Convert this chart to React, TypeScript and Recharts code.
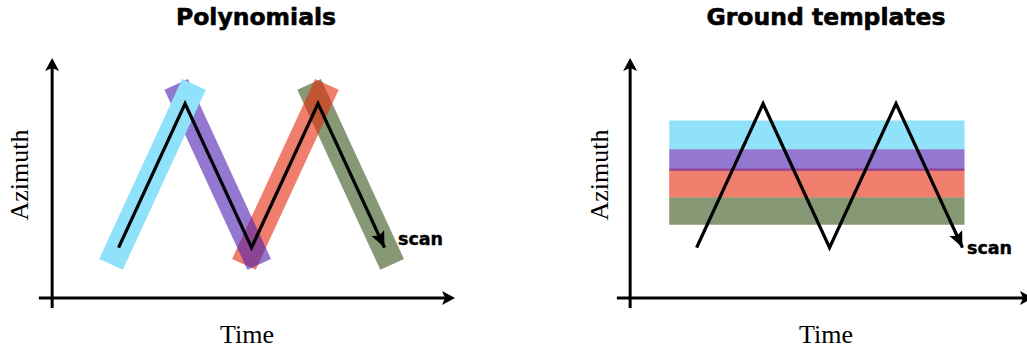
import React from 'react';
import { ComposedChart, Line, XAxis, YAxis, ReferenceLine, ReferenceArea } from 'recharts';

// scan path (time, azimuth) shared by both panels
const scanPath = [
  { t: 1.65, a: 2.1 },
  { t: 3.3, a: 8.1 },
  { t: 4.95, a: 2.1 },
  { t: 6.6, a: 8.1 },
  { t: 8.25, a: 2.1 },
];

// polynomial pieces, one per scan leg
const cyanPiece = [{ t: 1.46, a: 1.4 }, { t: 3.52, a: 8.9 }];
const purplePiece = [{ t: 3.08, a: 8.9 }, { t: 5.14, a: 1.4 }];
const redPiece = [{ t: 4.76, a: 1.4 }, { t: 6.82, a: 8.9 }];
const greenPiece = [{ t: 6.38, a: 8.9 }, { t: 8.44, a: 1.4 }];

// ground template bands [low, high] in azimuth, across time
const templateTime = [0.97, 8.3];
const cyanBand = [6.2, 7.4];
const purpleBand = [5.3, 6.2];
const redBand = [4.2, 5.4];
const greenBand = [3.05, 4.2];

const axisX = [{ t: -0.33, a: 0 }, { t: 10, a: 0 }];
const axisY = [{ t: 0, a: -0.42 }, { t: 0, a: 10 }];

const CYAN = '#8fe2fa';
const PURPLE = 'rgb(77,30,177)';
const RED = 'rgb(230,40,10)';
const GREEN = '#879874';

const W = 480;
const H = 352;
const margin = { top: 58, right: 25, bottom: 42, left: 32 };

const head = (x1: number, y1: number, x2: number, y2: number, len: number, half: number) => {
  const d = Math.hypot(x2 - x1, y2 - y1) || 1;
  const ux = (x2 - x1) / d;
  const uy = (y2 - y1) / d;
  const bx = x2 - len * ux;
  const by = y2 - len * uy;
  const nx = -uy;
  const ny = ux;
  const pts = [
    [x2, y2],
    [bx + half * nx, by + half * ny],
    [x2 - (len - 3) * ux, y2 - (len - 3) * uy],
    [bx - half * nx, by - half * ny],
  ];
  return pts.map((p) => p.join(',')).join(' ');
};

const AxisArrow = (p: any) => {
  const d = Math.hypot(p.x2 - p.x1, p.y2 - p.y1) || 1;
  const ex = p.x2 - ((p.x2 - p.x1) / d) * 8;
  const ey = p.y2 - ((p.y2 - p.y1) / d) * 8;
  return (
    <g>
      <line x1={p.x1} y1={p.y1} x2={ex} y2={ey} stroke="#000" strokeWidth={3} />
      <polygon points={head(p.x1, p.y1, p.x2, p.y2, 13, 7)} fill="#000" />
    </g>
  );
};

const ScanHead = (p: any) => <polygon points={head(p.x1, p.y1, p.x2, p.y2, 16, 7)} fill="#000" />;

const titleStyle = { fontFamily: 'DejaVu Sans', fontWeight: 700, fontSize: 23.5, stroke: '#000', strokeWidth: 0.6 };
const labelStyle = { fontFamily: 'Liberation Serif', fontSize: 26 };
const scanStyle = { fontFamily: 'DejaVu Sans', fontWeight: 700, fontSize: 17.5, stroke: '#000', strokeWidth: 0.4 };

const commonAxes = [
  <XAxis key="x" type="number" dataKey="t" domain={[-0.5, 10]} hide allowDataOverflow />,
  <YAxis key="y" type="number" dataKey="a" domain={[-0.5, 10]} hide allowDataOverflow />,
  <ReferenceLine key="ax" segment={[{ x: axisX[0].t, y: axisX[0].a }, { x: axisX[1].t, y: axisX[1].a }]} ifOverflow="visible" shape={AxisArrow} />,
  <ReferenceLine key="ay" segment={[{ x: axisY[0].t, y: axisY[0].a }, { x: axisY[1].t, y: axisY[1].a }]} ifOverflow="visible" shape={AxisArrow} />,
];

const scanLine = () => [
  <Line key="scan" data={scanPath} dataKey="a" stroke="#000" strokeWidth={3.3} dot={false} activeDot={false} isAnimationActive={false} strokeLinejoin="miter" />,
  <ReferenceLine
    key="scanhead"
    segment={[
      { x: scanPath[3].t, y: scanPath[3].a },
      { x: scanPath[4].t, y: scanPath[4].a },
    ]}
    ifOverflow="visible"
    shape={ScanHead}
  />,
];

const piece = (key: string, data: { t: number; a: number }[], color: string, opacity: number) => (
  <Line
    key={key}
    data={data}
    dataKey="a"
    stroke={color}
    strokeOpacity={opacity}
    strokeWidth={26}
    dot={false}
    activeDot={false}
    isAnimationActive={false}
  />
);

const band = (key: string, range: number[], color: string, opacity: number) => (
  <ReferenceArea
    key={key}
    x1={templateTime[0]}
    x2={templateTime[1]}
    y1={range[0]}
    y2={range[1]}
    fill={color}
    fillOpacity={opacity}
    stroke="none"
    ifOverflow="visible"
  />
);

export default function App() {
  return (
    <div style={{ position: 'absolute', left: 0, top: 0, width: 1027, height: 352, overflow: 'hidden', background: '#fff' }}>
      <div style={{ position: 'absolute', left: 0, top: 0 }}>
        <ComposedChart width={W} height={H} margin={margin} data={scanPath}>
          {commonAxes}
          {piece('green', greenPiece, GREEN, 1)}
          {piece('red', redPiece, RED, 0.6)}
          {piece('purple', purplePiece, PURPLE, 0.6)}
          {piece('cyan', cyanPiece, CYAN, 1)}
          {scanLine()}
          <text x={256} y={25} textAnchor="middle" style={titleStyle}>Polynomials</text>
          <text x={247} y={343} textAnchor="middle" style={labelStyle}>Time</text>
          <text x={28} y={175} textAnchor="middle" transform="rotate(-90, 28, 175)" style={labelStyle}>Azimuth</text>
          <text x={398} y={245} style={scanStyle}>scan</text>
        </ComposedChart>
      </div>
      <div style={{ position: 'absolute', left: 578, top: 0 }}>
        <ComposedChart width={W} height={H} margin={margin} data={scanPath}>
          {commonAxes}
          {band('cyan', cyanBand, CYAN, 1)}
          {band('green', greenBand, GREEN, 1)}
          {band('red', redBand, RED, 0.6)}
          {band('purple', purpleBand, PURPLE, 0.6)}
          {scanLine()}
          <text x={248} y={25} textAnchor="middle" style={titleStyle}>Ground templates</text>
          <text x={248} y={343} textAnchor="middle" style={labelStyle}>Time</text>
          <text x={30} y={175} textAnchor="middle" transform="rotate(-90, 30, 175)" style={labelStyle}>Azimuth</text>
          <text x={389} y={254} style={scanStyle}>scan</text>
        </ComposedChart>
      </div>
    </div>
  );
}
